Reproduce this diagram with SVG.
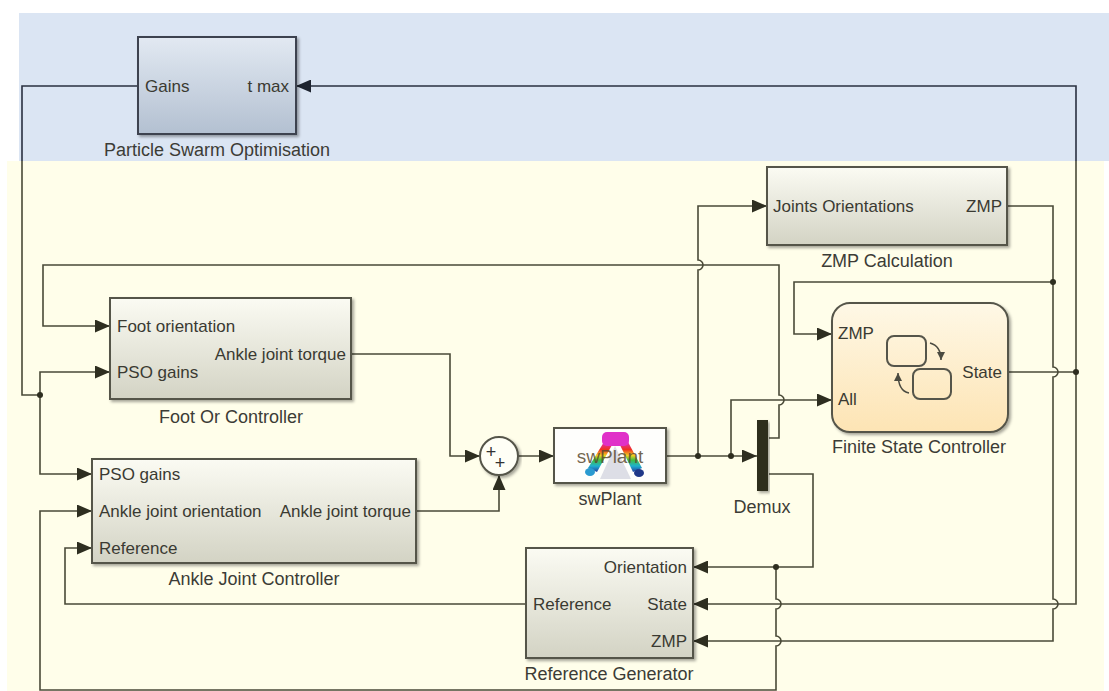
<svg xmlns="http://www.w3.org/2000/svg" width="1109" height="691" viewBox="0 0 1109 691">
  <defs>
    <linearGradient id="gBlock" x1="0" y1="0" x2="0" y2="1">
      <stop offset="0" stop-color="#fbfbf3"/>
      <stop offset="1" stop-color="#d3d3c4"/>
    </linearGradient>
    <linearGradient id="gPso" x1="0" y1="0" x2="0" y2="1">
      <stop offset="0" stop-color="#e2e9f2"/>
      <stop offset="1" stop-color="#b3c0d1"/>
    </linearGradient>
    <linearGradient id="gChart" x1="0" y1="0" x2="0" y2="1">
      <stop offset="0" stop-color="#fef8e6"/>
      <stop offset="1" stop-color="#fde4b4"/>
    </linearGradient>
    <linearGradient id="gLeg" x1="0" y1="0" x2="0" y2="1">
      <stop offset="0" stop-color="#e030c0"/>
      <stop offset="0.25" stop-color="#f03020"/>
      <stop offset="0.45" stop-color="#f0d020"/>
      <stop offset="0.6" stop-color="#40c040"/>
      <stop offset="0.8" stop-color="#20b0d0"/>
      <stop offset="1" stop-color="#2040a0"/>
    </linearGradient>
    <filter id="shadow" x="-5%" y="-5%" width="115%" height="120%">
      <feDropShadow dx="2" dy="2" stdDeviation="1.5" flood-color="#000" flood-opacity="0.35"/>
    </filter>
    <marker id="arrow" markerUnits="userSpaceOnUse" markerWidth="15" markerHeight="13" refX="15" refY="6.5" orient="auto">
      <path d="M0,0 L15,6.5 L0,13 z" fill="#2e2e20"/>
    </marker>
    <marker id="arrowBlue" markerUnits="userSpaceOnUse" markerWidth="15" markerHeight="13" refX="15" refY="6.5" orient="auto">
      <path d="M0,0 L15,6.5 L0,13 z" fill="#1e2430"/>
    </marker>
    <marker id="small" markerUnits="userSpaceOnUse" markerWidth="8" markerHeight="8" refX="8" refY="4" orient="auto">
      <path d="M0,0 L8,4 L0,8 z" fill="#4a4a40"/>
    </marker>
  </defs>
  <style>
    .wire { fill: none; stroke: #4a4a38; stroke-width: 1.6; }
    .wireBlue { fill: none; stroke: #2a3040; stroke-width: 1.6; }
    .dot { fill: #2e2e20; }
    .box { fill: url(#gBlock); stroke: #55554a; stroke-width: 2; filter: url(#shadow); }
    .port { font-family: "Liberation Sans", Arial, sans-serif; font-size: 17px; fill: #3a3a32; }
    .name { font-family: "Liberation Sans", Arial, sans-serif; font-size: 18px; fill: #3c3c36; text-anchor: middle; }
    .end { text-anchor: end; }
  </style>

  <!-- background areas -->
  <rect x="19" y="13" width="1090" height="148" fill="#dbe5f3"/>
  <rect x="7" y="161" width="1097" height="530" fill="#fffeea"/>

  <!-- connectors -->
  <g id="connectors">
    <!-- optimiser output gains to both controllers -->
    <path class="wireBlue" d="M138,86 H22 V161"/>
    <path class="wire" d="M22,161 V395 H40"/>
    <path class="wire" d="M40,395 V372 H110" marker-end="url(#arrow)"/>
    <path class="wire" d="M40,395 V474 H92" marker-end="url(#arrow)"/>
    <circle class="dot" cx="40" cy="395" r="3"/>

    <!-- state feedback: chart state to t max and reference generator -->
    <path class="wire" d="M1008,372 H1076"/>
    <path class="wire" d="M1076,372 V161"/>
    <path class="wireBlue" d="M1076,161 V86 H296" marker-end="url(#arrowBlue)"/>
    <path class="wire" d="M1076,372 V604 H693" marker-end="url(#arrow)"/>
    <circle class="dot" cx="1076" cy="372" r="3"/>

    <!-- ZMP calculation output -->
    <path class="wire" d="M1007,206 H1053 V367 A5,5 0 0 1 1053,377 V599 A5,5 0 0 1 1053,609 V641 H693" marker-end="url(#arrow)"/>
    <path class="wire" d="M1053,282 H794 V334 H832" marker-end="url(#arrow)"/>
    <circle class="dot" cx="1053" cy="282" r="3"/>

    <!-- controller torques into the sum -->
    <path class="wire" d="M351,354 H450 V456 H480" marker-end="url(#arrow)"/>
    <path class="wire" d="M416,511 H499 V475" marker-end="url(#arrow)"/>
    <path class="wire" d="M518,456 H554" marker-end="url(#arrow)"/>

    <!-- plant outputs -->
    <path class="wire" d="M666,456 H757" marker-end="url(#arrow)"/>
    <path class="wire" d="M698,456 V270 A5,5 0 0 0 698,260 V206 H767" marker-end="url(#arrow)"/>
    <path class="wire" d="M731,456 V400 H832" marker-end="url(#arrow)"/>
    <circle class="dot" cx="698" cy="456" r="3"/>
    <circle class="dot" cx="731" cy="456" r="3"/>

    <!-- demux outputs -->
    <path class="wire" d="M769,438 H779 V405 A5,5 0 0 0 779,395 V265 H43 V326 H110" marker-end="url(#arrow)"/>
    <path class="wire" d="M769,474 H813 V567 H693" marker-end="url(#arrow)"/>
    <path class="wire" d="M776,567 V599 A5,5 0 0 1 776,609 V636 A5,5 0 0 1 776,646 V690 H40 V511 H92" marker-end="url(#arrow)"/>
    <circle class="dot" cx="776" cy="567" r="3"/>

    <!-- reference to ankle controller -->
    <path class="wire" d="M526,604 H65 V548 H92" marker-end="url(#arrow)"/>
  </g>

  <!-- Particle Swarm Optimisation -->
  <g id="pso">
    <rect x="138" y="37" width="158" height="97" fill="url(#gPso)" stroke="#3c4350" stroke-width="2" filter="url(#shadow)"/>
    <text class="port" x="145" y="92">Gains</text>
    <text class="port end" x="289" y="92">t max</text>
    <text class="name" x="217" y="156">Particle Swarm Optimisation</text>
  </g>

  <!-- ZMP Calculation -->
  <g id="zmpCalc">
    <rect class="box" x="767" y="167" width="240" height="78"/>
    <text class="port" x="773" y="212">Joints Orientations</text>
    <text class="port end" x="1002" y="212">ZMP</text>
    <text class="name" x="887" y="267">ZMP Calculation</text>
  </g>

  <!-- Foot Or Controller -->
  <g id="footController">
    <rect class="box" x="110" y="298" width="241" height="101"/>
    <text class="port" x="117" y="332">Foot orientation</text>
    <text class="port" x="117" y="378">PSO gains</text>
    <text class="port end" x="346" y="360">Ankle joint torque</text>
    <text class="name" x="231" y="423">Foot Or Controller</text>
  </g>

  <!-- Ankle Joint Controller -->
  <g id="ankleController">
    <rect class="box" x="92" y="459" width="324" height="104"/>
    <text class="port" x="99" y="480">PSO gains</text>
    <text class="port" x="99" y="517">Ankle joint orientation</text>
    <text class="port end" x="411" y="517">Ankle joint torque</text>
    <text class="port" x="99" y="554">Reference</text>
    <text class="name" x="254" y="585">Ankle Joint Controller</text>
  </g>

  <!-- Sum -->
  <g id="sum">
    <circle cx="499" cy="456" r="19" fill="#fffff6" stroke="#55554a" stroke-width="2" filter="url(#shadow)"/>
    <text x="491" y="458" font-family="Liberation Sans, Arial, sans-serif" font-size="18" fill="#333" text-anchor="middle">+</text>
    <text x="500" y="469" font-family="Liberation Sans, Arial, sans-serif" font-size="18" fill="#333" text-anchor="middle">+</text>
  </g>

  <!-- swPlant -->
  <g id="swPlant">
    <rect x="554" y="428" width="112" height="55" fill="#fefefc" stroke="#55554a" stroke-width="2" filter="url(#shadow)"/>
    <polygon points="615,446 600,479 631,479" fill="#d4d6e0" opacity="0.8"/>
    <polygon points="604,442 612,445 597,472 588,468" fill="url(#gLeg)"/>
    <polygon points="620,445 628,442 642,468 633,472" fill="url(#gLeg)"/>
    <rect x="602" y="432" width="27" height="14" rx="5" fill="#e030c8"/>
    <ellipse cx="590" cy="472" rx="5" ry="4" fill="#2a9ad0"/>
    <ellipse cx="639" cy="473" rx="5" ry="4" fill="#203888"/>
    <text x="610" y="463" font-family="Liberation Sans, Arial, sans-serif" font-size="19" fill="#5a4a30" fill-opacity="0.85" text-anchor="middle">swPlant</text>
    <text class="name" x="610" y="505">swPlant</text>
  </g>

  <!-- Demux -->
  <g id="demux">
    <rect x="757" y="420" width="11" height="71" fill="#2e2e1e" filter="url(#shadow)"/>
    <text class="name" x="762" y="513">Demux</text>
  </g>

  <!-- Finite State Controller -->
  <g id="fsc">
    <rect x="832" y="303" width="176" height="129" rx="18" fill="url(#gChart)" stroke="#55554a" stroke-width="2" filter="url(#shadow)"/>
    <rect x="887" y="336" width="39" height="30" rx="7" fill="none" stroke="#55554a" stroke-width="2"/>
    <rect x="913" y="369" width="38" height="30" rx="7" fill="none" stroke="#55554a" stroke-width="2"/>
    <path d="M930,343 Q941,346 941,360" fill="none" stroke="#4a4a40" stroke-width="1.5" marker-end="url(#small)"/>
    <path d="M909,393 Q898,391 898,373" fill="none" stroke="#4a4a40" stroke-width="1.5" marker-end="url(#small)"/>
    <text class="port" x="838" y="339">ZMP</text>
    <text class="port" x="838" y="405">All</text>
    <text class="port end" x="1002" y="378">State</text>
    <text class="name" x="919" y="453">Finite State Controller</text>
  </g>

  <!-- Reference Generator -->
  <g id="refGen">
    <rect class="box" x="526" y="548" width="167" height="110"/>
    <text class="port end" x="687" y="573">Orientation</text>
    <text class="port" x="533" y="610">Reference</text>
    <text class="port end" x="687" y="610">State</text>
    <text class="port end" x="687" y="647">ZMP</text>
    <text class="name" x="609" y="680">Reference Generator</text>
  </g>
</svg>
